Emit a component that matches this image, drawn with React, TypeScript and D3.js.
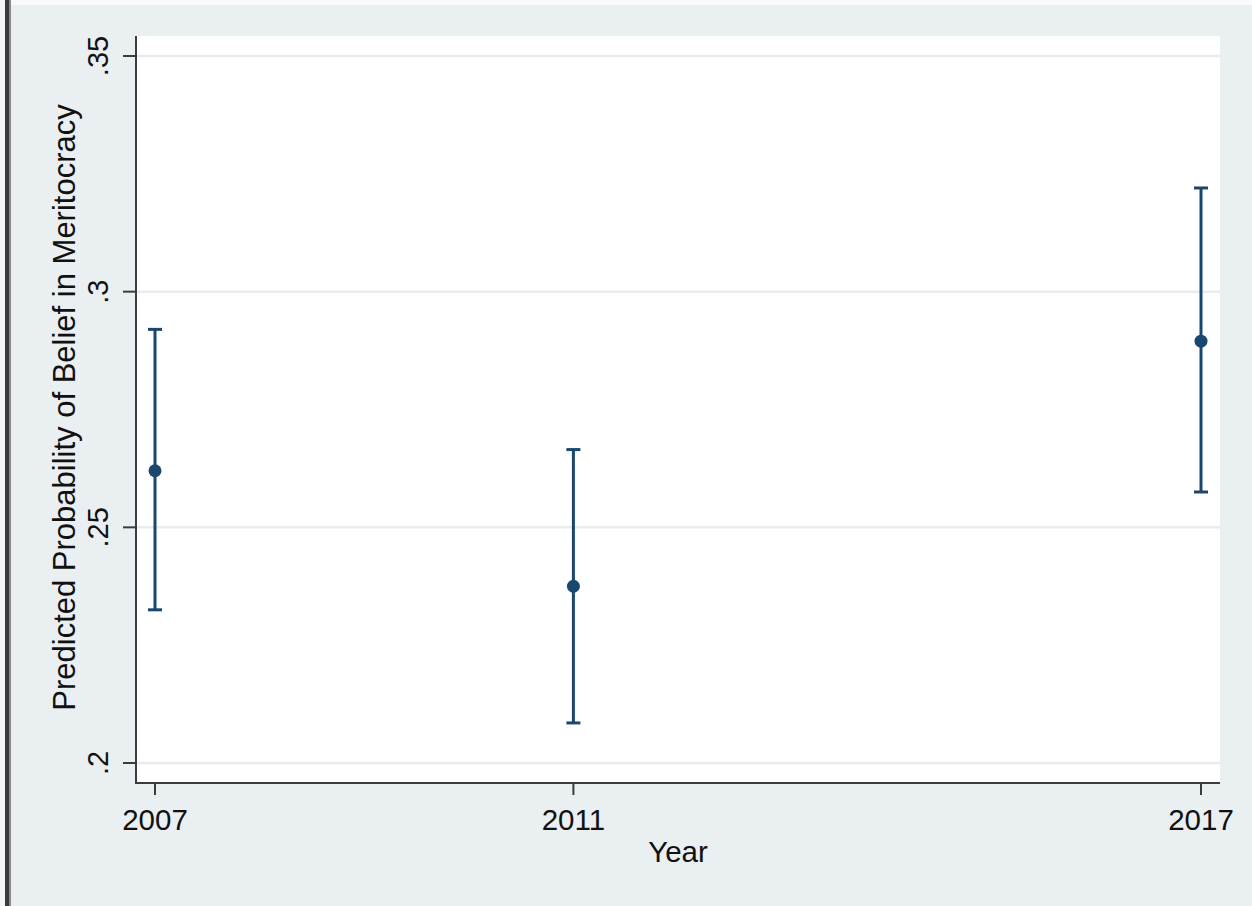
import React from "react";
import * as d3 from "d3";

// Predicted probability of belief in meritocracy by survey year, with 95% CIs
const years = [2007, 2011, 2017];
const estimates = [0.262, 0.2375, 0.2895];
const lowerBounds = [0.2325, 0.2085, 0.2575];
const upperBounds = [0.292, 0.2665, 0.322];
const yTicks = [0.2, 0.25, 0.3, 0.35];
const yTickLabels = [".2", ".25", ".3", ".35"];
const xTickLabels = ["2007", "2011", "2017"];

const W = 1252;
const H = 906;
const plot = { left: 136, right: 1220, top: 36, bottom: 783 };
const FONT = "Arial, 'Liberation Sans', Helvetica, sans-serif";
const NAVY = "#1a476f";
const BG = "#eaeff2";
const GRID = "#e8ecef";
const AXIS = "#3c3c3c";

export default function App() {
  const x = d3.scaleLinear().domain([2007, 2017]).range([155, 1201]);
  const y = d3.scaleLinear().domain([0.2, 0.35]).range([763, 56]);
  const capHalf = 7;

  return (
    <svg
      width={W}
      height={H}
      style={{ position: "absolute", left: 0, top: 0, display: "block" }}
      fontFamily={FONT}
    >
      {/* outer graph region */}
      <rect x={0} y={0} width={W} height={H} fill={BG} />
      <rect x={0} y={0} width={W} height={5} fill="#f7f9fa" />
      <rect x={0} y={0} width={5} height={H} fill="#f3f5f6" />
      <rect x={5} y={0} width={4} height={H} fill="#3a3a3a" />
      <rect x={9} y={0} width={2} height={H} fill="#8a8a8a" />

      {/* plot region */}
      <rect
        x={plot.left}
        y={plot.top}
        width={plot.right - plot.left}
        height={plot.bottom - plot.top}
        fill="#ffffff"
      />

      {/* horizontal gridlines */}
      {yTicks.map((t) => (
        <line
          key={`g${t}`}
          x1={plot.left}
          x2={plot.right}
          y1={y(t)}
          y2={y(t)}
          stroke={GRID}
          strokeWidth={2.5}
        />
      ))}

      {/* axes */}
      <line x1={plot.left} x2={plot.left} y1={plot.top} y2={plot.bottom + 1} stroke={AXIS} strokeWidth={2} />
      <line x1={plot.left - 1} x2={plot.right} y1={plot.bottom} y2={plot.bottom} stroke={AXIS} strokeWidth={2} />

      {/* y ticks & labels */}
      {yTicks.map((t, i) => (
        <g key={`y${t}`}>
          <line x1={plot.left - 13} x2={plot.left} y1={y(t)} y2={y(t)} stroke={AXIS} strokeWidth={2} />
          <text
            transform={`translate(${108},${y(t)}) rotate(-90)`}
            textAnchor="middle"
            fontSize={29}
            fill="#111"
          >
            {yTickLabels[i]}
          </text>
        </g>
      ))}

      {/* x ticks & labels */}
      {years.map((yr, i) => (
        <g key={`x${yr}`}>
          <line x1={x(yr)} x2={x(yr)} y1={plot.bottom} y2={plot.bottom + 12} stroke={AXIS} strokeWidth={2} />
          <text x={x(yr)} y={830} textAnchor="middle" fontSize={29.5} fill="#111">
            {xTickLabels[i]}
          </text>
        </g>
      ))}

      {/* axis titles */}
      <text x={(plot.left + plot.right) / 2} y={862} textAnchor="middle" fontSize={29.5} fill="#111">
        Year
      </text>
      <text
        transform={`translate(${75},${407.5}) rotate(-90)`}
        textAnchor="middle"
        fontSize={31}
        fill="#111"
      >
        Predicted Probability of Belief in Meritocracy
      </text>

      {/* confidence intervals */}
      {years.map((yr, i) => (
        <g key={`ci${yr}`} stroke={NAVY} strokeWidth={3}>
          <line x1={x(yr)} x2={x(yr)} y1={y(lowerBounds[i])} y2={y(upperBounds[i])} />
          <line x1={x(yr) - capHalf} x2={x(yr) + capHalf} y1={y(upperBounds[i])} y2={y(upperBounds[i])} />
          <line x1={x(yr) - capHalf} x2={x(yr) + capHalf} y1={y(lowerBounds[i])} y2={y(lowerBounds[i])} />
        </g>
      ))}

      {/* point estimates */}
      {years.map((yr, i) => (
        <circle key={`p${yr}`} cx={x(yr)} cy={y(estimates[i])} r={6.5} fill={NAVY} />
      ))}
    </svg>
  );
}
